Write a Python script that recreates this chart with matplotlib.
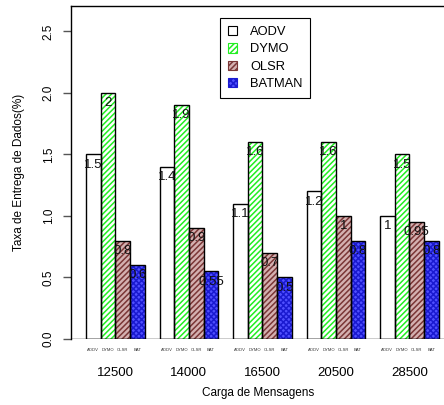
import matplotlib
matplotlib.use("Agg")
import matplotlib.pyplot as plt
from matplotlib.patches import Patch

plt.rcParams['font.family'] = ['Liberation Sans', 'DejaVu Sans']
plt.rcParams['hatch.linewidth'] = 1.1

# message load per scenario and delivery rate per protocol
cargas = ["12500", "14000", "16500", "20500", "28500"]
protocolos = ["AODV", "DYMO", "OLSR", "BATMAN"]
siglas = ["AODV", "DYMO", "OLSR", "BAT"]
aodv = [1.5, 1.4, 1.1, 1.2, 1.0]
dymo = [2.0, 1.9, 1.6, 1.6, 1.5]
olsr = [0.8, 0.9, 0.7, 1.0, 0.95]
batman = [0.6, 0.55, 0.5, 0.8, 0.8]
rotulos = [["1.5", "1.4", "1.1", "1.2", "1"],
           ["2", "1.9", "1.6", "1.6", "1.5"],
           ["0.8", "0.9", "0.7", "1", "0.95"],
           ["0.6", "0.55", "0.5", "0.8", "0.8"]]
series = [aodv, dymo, olsr, batman]

# fill, hatch pattern, hatch colour
estilos = [("white", "", "black"),
           ("white", "//////", "#22ee22"),
           ("#d4b0b0", "//////", "#7a3636"),
           ("#5050ff", "xxxxxx", "#1a1ad0")]

fig = plt.figure(figsize=(4.44, 4.05), dpi=100)
ax = fig.add_axes([71.3 / 444, 66 / 405, (444 - 71.3) / 444, 333 / 405])

for j, (vals, (fc, hatch, hc)) in enumerate(zip(series, estilos)):
    xs = [1 + 5 * g + j for g in range(len(cargas))]
    ax.bar(xs, vals, width=1, align='edge', color=fc, hatch=hatch,
           edgecolor=hc, linewidth=0, zorder=2)
    ax.bar(xs, vals, width=1, align='edge', fill=False,
           edgecolor='black', linewidth=1, zorder=3)
    for x, v, lab in zip(xs, vals, rotulos[j]):
        ax.annotate(lab, (x + 0.5, v), xytext=(0, -3), textcoords='offset points',
                    ha='center', va='top', fontsize=9.5, color='#111111', zorder=4)
        ax.text(x + 0.5, -0.09, siglas[j], ha='center', va='center',
                fontsize=3, color='#333333')

ax.set_xlim(0, 25.35)
ax.set_ylim(0, 2.707)
ax.axhline(0, color='black', linewidth=1, zorder=5)

ax.set_yticks([0, 0.5, 1.0, 1.5, 2.0, 2.5])
ax.set_yticklabels(["0.0", "0.5", "1.0", "1.5", "2.0", "2.5"], rotation=90, va='center')
ax.tick_params(axis='y', length=6, width=1, labelsize=8.5, pad=6, color='#555555')

ax.set_xticks([3 + 5 * g for g in range(len(cargas))])
ax.set_xticklabels(cargas, fontsize=9.5)
ax.tick_params(axis='x', length=0, pad=20)

ax.spines['right'].set_visible(False)
ax.spines['bottom'].set_visible(False)
for s in ('left', 'top'):
    ax.spines[s].set_linewidth(1)

ax.set_xlabel("Carga de Mensagens", fontsize=8.5, labelpad=6)
ax.set_ylabel("Taxa de Entrega de Dados(%)", fontsize=8.5, labelpad=13)

handles = [Patch(facecolor=fc, hatch=h, edgecolor=hc, linewidth=0.8) for fc, h, hc in estilos]
handles[0] = Patch(facecolor='white', edgecolor='black', linewidth=0.8)
leg = fig.legend(handles, protocolos, loc='upper left',
                 bbox_to_anchor=(220 / 444, 1 - 18 / 405), fontsize=9.3,
                 handlelength=0.75, handleheight=0.75, handletextpad=1.0,
                 labelspacing=0.4, borderpad=0.6, borderaxespad=0, fancybox=False,
                 edgecolor='black', framealpha=1)
leg.get_frame().set_linewidth(0.8)

fig.savefig("out.png", dpi=100)
